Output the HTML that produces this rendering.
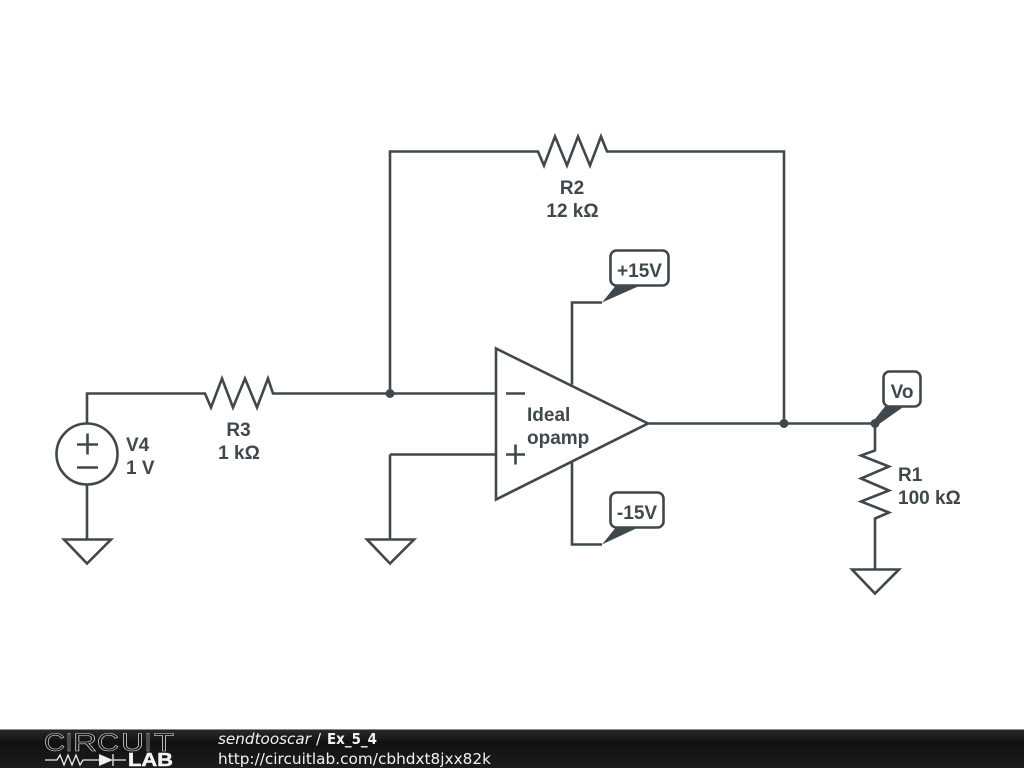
<!DOCTYPE html>
<html><head><meta charset="utf-8"><style>html,body{margin:0;padding:0;background:#fff;width:1024px;height:768px;overflow:hidden}svg{display:block}</style></head>
<body>
<svg width="1024" height="768" viewBox="0 0 1024 768" xmlns="http://www.w3.org/2000/svg">
<defs><linearGradient id="g" x1="0" y1="0" x2="0" y2="1"><stop offset="0" stop-color="#2b2b2b"/><stop offset="0.35" stop-color="#111"/><stop offset="1" stop-color="#1c1c1c"/></linearGradient></defs>
<rect width="1024" height="768" fill="#fff"/>
<g transform="translate(0,-0.5)">
<g fill="none" stroke="#3f484d" stroke-width="2.6" stroke-linejoin="miter">
<path d="M87 424V394H205L211 408L222 379L233 408L245 379L257 408L268 379L273 394H496"/>
<path d="M390 394V152H538L544 166L555 137L567 166L578 137L590 166L601 137L607 152H784V424"/>
<path d="M648 424H875V451L861 456L889 467L861 479L889 491L861 502L889 513L875 519V570"/>
<path d="M87 485V540"/>
<path d="M390 455H496M390 455V540"/>
<circle cx="87" cy="454.500" r="30.500"/>
<path d="M64 540H111L87 564Z"/>
<path d="M367 540H414L390 564Z"/>
<path d="M852 570H899L875 594Z"/>
<path d="M496 349V500L648 424Z"/>
<path d="M572 385V303H602"/>
<path d="M572 463V545H602"/>
<path d="M77 445H98M87.500 434V455M77 468H98"/>
<path d="M506 394H525M506 455H525M515.500 445V465"/>
<rect x="610.500" y="251" width="58" height="35" rx="6" fill="#fff"/>
<rect x="610.500" y="493" width="53" height="35" rx="6" fill="#fff"/>
<rect x="883.500" y="372" width="37" height="35" rx="6" fill="#fff"/>
</g>
<g fill="#3f484d">
<path d="M602 303L615 287H638Z"/>
<path d="M602 545L615 529H636Z"/>
<path d="M873 422L885 407H904L877 426Z"/>
<circle cx="390" cy="394" r="4.500"/>
<circle cx="784" cy="424" r="4.500"/>
<circle cx="875" cy="424" r="4.500"/>
</g>
</g>
<g font-family="'Liberation Sans',sans-serif" font-weight="700" font-size="19" fill="#3f484d">
<text x="572" y="194" text-anchor="middle">R2</text>
<text x="572.500" y="217" text-anchor="middle">12 kΩ</text>
<text x="238.500" y="436" text-anchor="middle">R3</text>
<text x="239" y="459" text-anchor="middle">1 kΩ</text>
<text x="126" y="451">V4</text>
<text x="126" y="474">1 V</text>
<text x="898" y="481">R1</text>
<text x="898" y="504">100 kΩ</text>
<text x="527" y="421">Ideal</text>
<text x="527" y="444">opamp</text>
<text x="639.500" y="277" text-anchor="middle">+15V</text>
<text x="637" y="519" text-anchor="middle">-15V</text>
<text x="902" y="398" text-anchor="middle">Vo</text>
</g>
<rect x="0" y="729" width="1024" height="39" fill="url(#g)"/>
<rect x="0" y="729" width="1024" height="1" fill="#8a8a8a"/>
<g font-family="'Liberation Sans',sans-serif" font-size="25" fill="#151515" stroke="#dcdcdc" stroke-width="0.6" lengthAdjust="spacingAndGlyphs">
<text x="44" y="751" textLength="21" lengthAdjust="spacingAndGlyphs">C</text>
<text x="66" y="751" textLength="6" lengthAdjust="spacingAndGlyphs">I</text>
<text x="73" y="751" textLength="24" lengthAdjust="spacingAndGlyphs">R</text>
<text x="97" y="751" textLength="22" lengthAdjust="spacingAndGlyphs">C</text>
<text x="121" y="751" textLength="23" lengthAdjust="spacingAndGlyphs">U</text>
<text x="145" y="751" textLength="6" lengthAdjust="spacingAndGlyphs">I</text>
<text x="154" y="751" textLength="20" lengthAdjust="spacingAndGlyphs">T</text>
</g>
<g fill="none" stroke="#eee" stroke-width="1.300">
<path d="M45 760H57L60 755L64 765L68 755L72 765L76 755L80 765L83 760H99M113 760H126"/>
<path d="M113 754V766"/>
</g>
<path d="M99 754L113 760L99 766Z" fill="#eee"/>
<text x="128" y="766" font-family="'Liberation Sans',sans-serif" font-weight="700" font-size="18" textLength="45" lengthAdjust="spacingAndGlyphs" fill="#f4f4f4" stroke="#f4f4f4" stroke-width="0.5">LAB</text>
<g font-family="'DejaVu Sans',sans-serif" fill="#f2f2f2" font-size="15">
<text x="218" y="744" font-style="italic" textLength="93" lengthAdjust="spacingAndGlyphs">sendtooscar</text>
<text x="316" y="744">/</text>
<text x="327" y="744" font-weight="700" textLength="50" lengthAdjust="spacingAndGlyphs">Ex_5_4</text>
<text x="218" y="764" textLength="273" lengthAdjust="spacingAndGlyphs">http://circuitlab.com/cbhdxt8jxx82k</text>
</g>
</svg>
</body></html>
